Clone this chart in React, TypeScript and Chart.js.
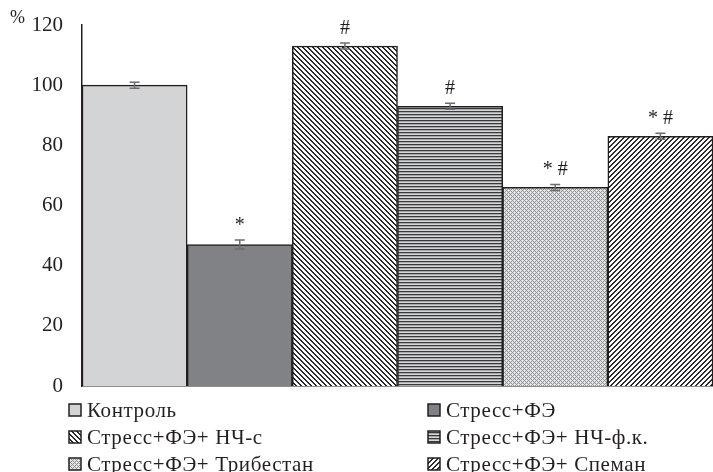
import React, { useEffect, useRef } from 'react';
import { Chart, registerables } from 'chart.js';

Chart.register(...registerables);

const categories = [
  'Контроль',
  'Стресс+ФЭ',
  'Стресс+ФЭ+ НЧ-с',
  'Стресс+ФЭ+ НЧ-ф.к.',
  'Стресс+ФЭ+ Трибестан',
  'Стресс+ФЭ+ Спеман',
];
const values = [100, 47, 113, 93, 66, 83];
const errors = [1, 1.5, 1, 1, 1, 1];
const marks = ['', '*', '#', '#', '* #', '* #'];
const patternKinds = ['solidLight', 'solidDark', 'backslash', 'horizontal', 'crosshatch', 'slash'];

const FONT = '"Liberation Serif", "Times New Roman", serif';
const INK = '#231f20';

function makePattern(kind: string): CanvasPattern | string {
  if (kind === 'solidLight') return '#d3d4d6';
  if (kind === 'solidDark') return '#808285';
  const c = document.createElement('canvas');
  const ctx = c.getContext('2d')!;
  if (kind === 'horizontal') {
    c.width = 4; c.height = 3;
    const rows = ['#3a3a3c', '#a7a8aa', '#d6d6d8'];
    rows.forEach((col, i) => { ctx.fillStyle = col; ctx.fillRect(0, i, 4, 1); });
    return ctx.createPattern(c, 'repeat')!;
  }
  const s = kind === 'crosshatch' ? 4 : 5;
  c.width = s; c.height = s;
  ctx.fillStyle = kind === 'crosshatch' ? '#e4e4e6' : '#ffffff';
  ctx.fillRect(0, 0, s, s);
  for (let x = 0; x < s; x++) {
    for (let y = 0; y < s; y++) {
      let on = false;
      if (kind === 'backslash') on = (((x - y) % s) + s) % s < 2;
      if (kind === 'slash') on = (x + y) % s < 2;
      if (kind === 'crosshatch') on = (x + y) % s === 0 || (((x - y) % s) + s) % s === 0;
      if (on) {
        ctx.fillStyle = kind === 'crosshatch' ? '#8e8f92' : '#2b2a2c';
        ctx.fillRect(x, y, 1, 1);
      }
    }
  }
  return ctx.createPattern(c, 'repeat')!;
}

export default function App() {
  const ref = useRef<HTMLCanvasElement | null>(null);

  useEffect(() => {
    const canvas = ref.current!;
    const fills = patternKinds.map(makePattern);

    const overlay = {
      id: 'overlay',
      afterDatasetsDraw(chart: any) {
        const ctx = chart.ctx as CanvasRenderingContext2D;
        const y = chart.scales.y;
        const meta = chart.getDatasetMeta(0);
        ctx.save();
        meta.data.forEach((bar: any, i: number) => {
          const cx = bar.x;
          const top = y.getPixelForValue(values[i] + errors[i]);
          const bot = y.getPixelForValue(values[i] - errors[i]);
          ctx.strokeStyle = '#6d6e71';
          ctx.lineWidth = 1.5;
          ctx.beginPath();
          ctx.moveTo(cx, top); ctx.lineTo(cx, bot);
          ctx.moveTo(cx - 5, top); ctx.lineTo(cx + 5, top);
          ctx.moveTo(cx - 5, bot); ctx.lineTo(cx + 5, bot);
          ctx.stroke();
          if (marks[i]) {
            ctx.fillStyle = INK;
            ctx.font = `20px ${FONT}`;
            ctx.textAlign = 'center';
            ctx.textBaseline = 'alphabetic';
            ctx.fillText(marks[i], cx, top - 9);
          }
        });
        ctx.restore();
      },
      afterDraw(chart: any) {
        const ctx = chart.ctx as CanvasRenderingContext2D;
        ctx.save();
        ctx.fillStyle = INK;
        ctx.font = `18px ${FONT}`;
        ctx.textAlign = 'left';
        ctx.textBaseline = 'alphabetic';
        ctx.fillText('%', 10, 23);
        // legend
        const colX = [69, 428];
        const rowY = [410, 437, 464];
        ctx.font = `21px ${FONT}`;
        (ctx as any).letterSpacing = '0.6px';
        ctx.textBaseline = 'middle';
        categories.forEach((label, i) => {
          const col = i % 2;
          const row = Math.floor(i / 2);
          const bx = colX[col];
          const by = rowY[row];
          ctx.fillStyle = fills[i] as any;
          ctx.fillRect(bx, by - 6, 12, 12);
          ctx.strokeStyle = INK;
          ctx.lineWidth = 1.5;
          ctx.strokeRect(bx, by - 6, 12, 12);
          ctx.fillStyle = INK;
          ctx.fillText(label, bx + 18, by + 1);
        });
        ctx.restore();
      },
    };

    const chart = new Chart(canvas, {
      type: 'bar',
      data: {
        labels: categories,
        datasets: [
          {
            data: values,
            backgroundColor: fills as any,
            borderColor: INK,
            borderWidth: 1.5,
            barPercentage: 1,
            categoryPercentage: 1,
          },
        ],
      },
      options: {
        responsive: false,
        animation: false,
        events: [],
        layout: { padding: { left: 0, right: 0, top: 25, bottom: 86 } },
        plugins: { legend: { display: false }, tooltip: { enabled: false } },
        scales: {
          x: {
            grid: { display: false, drawTicks: false },
            ticks: { display: false },
            border: { display: true, color: INK, width: 1.5 },
            afterFit: (s: any) => { s.height = 0; s.paddingLeft = 0; s.paddingRight = 0; },
          },
          y: {
            min: 0,
            max: 120,
            ticks: {
              stepSize: 20,
              padding: 19,
              color: INK,
              font: { family: FONT, size: 21 },
            },
            grid: { display: false, drawTicks: false },
            border: { display: true, color: INK, width: 1.5 },
            afterFit: (s: any) => { s.width = 82; s.paddingTop = 0; s.paddingBottom = 0; },
          },
        },
      },
      plugins: [overlay],
    });
    return () => chart.destroy();
  }, []);

  return (
    <div style={{ position: 'absolute', left: 0, top: 0, width: 713, height: 472, background: '#fff' }}>
      <canvas ref={ref} width={713} height={472} style={{ display: 'block' }} />
    </div>
  );
}
